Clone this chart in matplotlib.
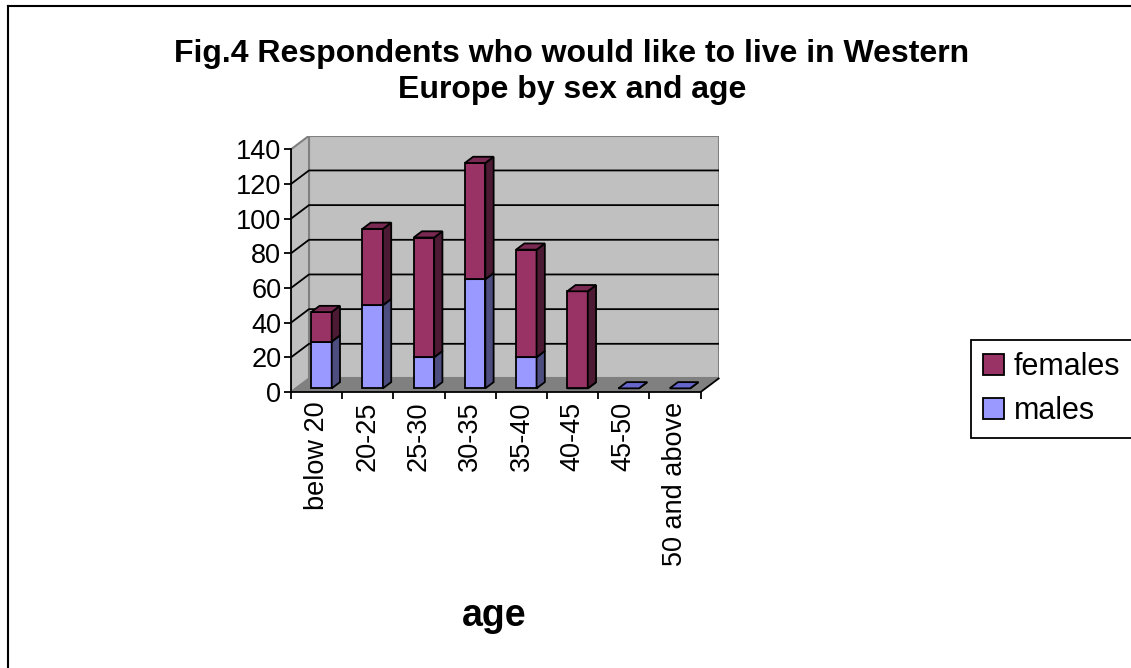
import matplotlib.pyplot as plt
from matplotlib.patches import Polygon, Patch
from matplotlib.lines import Line2D

plt.rcParams['font.family'] = ['Liberation Sans', 'DejaVu Sans']

# data
ages = ['below 20', '20-25', '25-30', '30-35', '35-40', '40-45', '45-50', '50 and above']
males = [27, 48, 18, 63, 18, 0, 0, 0]
females = [17, 44, 69, 67, 62, 56, 0, 0]

series = [('males', males, '#9999FF', '#4D4D80', '#7070C8'),
          ('females', females, '#993366', '#4D1A33', '#7A2952')]

W, H = 1131, 668
fig = plt.figure(figsize=(W / 100, H / 100), dpi=100)

# fake 3d depth offset (in data units)
dx, dy = 0.3515, 7.8
px_cat, px_val = 51.21, 1.7336
ax = fig.add_axes([291 / W, (H - 392) / H, (8 + dx) * px_cat / W, (140 + dy) * px_val / H])
ax.set_xlim(-0.5, 7.5 + dx)
ax.set_ylim(0, 140 + dy)
ax.set_facecolor('none')
for s in ax.spines.values():
    s.set_visible(False)

# walls and floor
x0, x1 = -0.5, 7.5
ax.add_patch(Polygon([(x0 + dx, dy), (x1 + dx, dy), (x1 + dx, 140 + dy), (x0 + dx, 140 + dy)],
                     fc='#C0C0C0', ec='#808080', lw=1.5, zorder=0))
ax.add_patch(Polygon([(x0, 0), (x0 + dx, dy), (x0 + dx, 140 + dy), (x0, 140)],
                     fc='#C0C0C0', ec='#808080', lw=1.5, zorder=0))
for v in range(20, 140, 20):
    ax.plot([x0, x0 + dx, x1 + dx], [v, v + dy, v + dy], color='black', lw=1.3, zorder=1)
ax.add_patch(Polygon([(x0, 0), (x1, 0), (x1 + dx, dy), (x0 + dx, dy)],
                     fc='#808080', ec='none', zorder=1))
ax.plot([x0, x0], [0, 140], color='black', lw=1.3, zorder=2, clip_on=False)
ax.plot([x0, x1, x1 + dx], [0, 0, dy], color='black', lw=1.3, zorder=2, clip_on=False)

# stacked columns with side and top faces
bw = 0.40
f0, fd = 0.27, 0.46
z = 3
for i in range(len(ages)):
    base = 0
    for name, vals, front, side, top in series:
        v = vals[i]
        if v == 0 and (name == 'females' or base > 0):
            continue
        xl = i - bw / 2 + f0 * dx
        xr = xl + bw
        b = base + f0 * dy
        t = base + v + f0 * dy
        ox, oy = fd * dx, fd * dy
        ax.bar(xl, v, width=bw, bottom=b, align='edge', color=front,
               edgecolor='black', lw=1.3, zorder=z)
        ax.add_patch(Polygon([(xr, b), (xr + ox, b + oy), (xr + ox, t + oy), (xr, t)],
                             fc=side, ec='black', lw=1.3, zorder=z))
        ax.add_patch(Polygon([(xl, t), (xr, t), (xr + ox, t + oy), (xl + ox, t + oy)],
                             fc=top if v > 0 else '#6666CC', ec='black', lw=1.3, zorder=z + 0.5))
        base += v
        z += 1

ax.set_yticks(range(0, 141, 20))
ax.tick_params(axis='y', length=5, width=1.3, pad=2, labelsize=19.5)
ax.set_xticks(range(len(ages)))
ax.set_xticklabels(ages, rotation=90, fontsize=19.5)
ax.set_xticks([k - 0.5 for k in range(len(ages) + 1)], minor=True)
ax.tick_params(axis='x', which='major', length=0, pad=7)
ax.tick_params(axis='x', which='minor', length=5, width=1.3)

fig.text(572 / W, 1 - 39 / H,
         'Fig.4 Respondents who would like to live in Western\nEurope by sex and age',
         ha='center', va='top', fontsize=23, fontweight='bold', linespacing=1.24)
fig.text(494 / W, 1 - 616 / H, 'age', ha='center', va='center', fontsize=27, fontweight='bold')

handles = [Patch(fc='#993366', ec='black', lw=1.3), Patch(fc='#9999FF', ec='black', lw=1.3)]
leg = fig.legend(handles, ['females', 'males'], loc='upper left', mode='expand',
                 bbox_to_anchor=(970.7 / W, 0, 1.05 - 970.7 / W, 1 - 340 / H),
                 fontsize=22, frameon=True, fancybox=False, edgecolor='black',
                 framealpha=1, borderaxespad=0, handlelength=0.7, handleheight=0.7,
                 handletextpad=0.3, labelspacing=0.45, borderpad=0.4)
leg.get_frame().set_linewidth(1.3)

# chart area border (only left and top edges fall inside the image)
fig.add_artist(Line2D([8 / W, 8 / W], [0, 1 - 6 / H], transform=fig.transFigure, color='black', lw=1.5))
fig.add_artist(Line2D([8 / W, 1], [1 - 6 / H, 1 - 6 / H], transform=fig.transFigure, color='black', lw=1.5))

fig.savefig('out.png', dpi=100)
